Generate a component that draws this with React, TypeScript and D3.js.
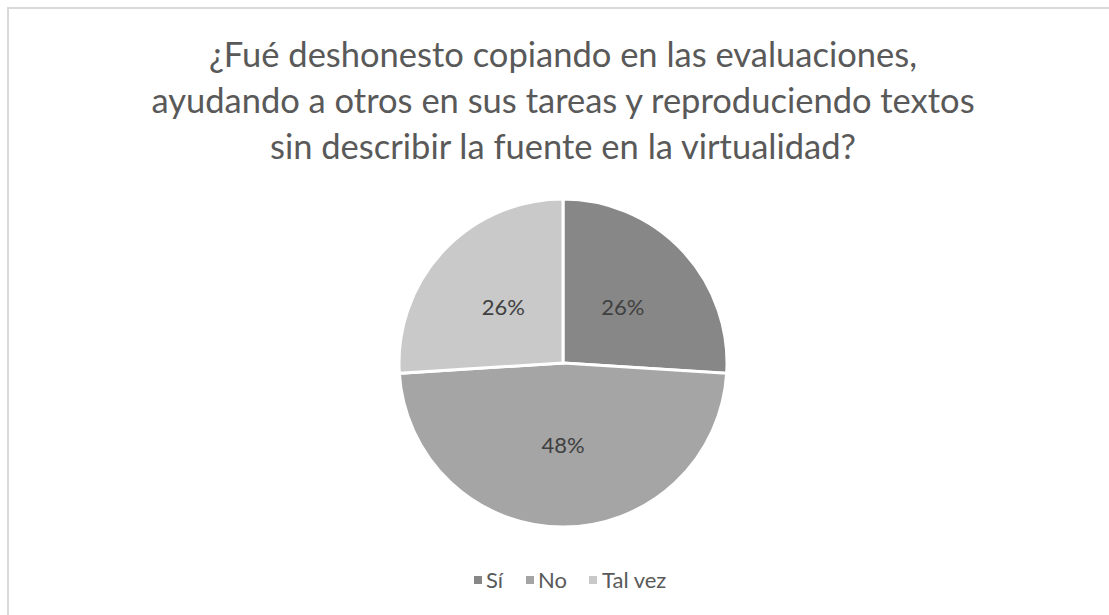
import React from "react";
import { pie, arc, PieArcDatum } from "d3";

const WIDTH = 1109;
const HEIGHT = 615;

const categories = ["Sí", "No", "Tal vez"];
const values = [26, 48, 26];
const colors = ["#878787", "#a5a5a5", "#c9c9c9"];
const titleLines = [
  "¿Fué deshonesto copiando en las evaluaciones,",
  "ayudando a otros en sus tareas y reproduciendo textos",
  "sin describir la fuente en la virtualidad?",
];

const FONT = "Lato, 'Noto Sans', sans-serif";
const CENTER = { x: 563, y: 363 };
const RADIUS = 164;

type Slice = { name: string; value: number; color: string };

export default function App() {
  const data: Slice[] = categories.map((name, i) => ({
    name,
    value: values[i],
    color: colors[i],
  }));
  const total = values.reduce((a, b) => a + b, 0);

  const arcs = pie<Slice>()
    .value((d) => d.value)
    .sort(null)(data);

  const slicePath = arc<PieArcDatum<Slice>>().innerRadius(0).outerRadius(RADIUS);
  const labelArc = arc<PieArcDatum<Slice>>()
    .innerRadius(RADIUS * 0.5)
    .outerRadius(RADIUS * 0.5);

  // legend: marker square x and text x per item
  const legendItems = [
    { x: 474, textX: 486 },
    { x: 526, textX: 538 },
    { x: 589, textX: 602 },
  ];

  return (
    <svg
      width={WIDTH}
      height={HEIGHT}
      style={{ position: "absolute", left: 0, top: 0, background: "#fff" }}
    >
      <rect x={8} y={8} width={WIDTH + 10} height={HEIGHT + 10} fill="#fff" stroke="#d9d9d9" strokeWidth={2} />

      <g fontFamily={FONT} fill="#595959" fontSize={34.5} textAnchor="middle">
        {titleLines.map((t, i) => (
          <text key={i} x={563} y={67 + i * 46}>
            {t}
          </text>
        ))}
      </g>

      <g transform={`translate(${CENTER.x},${CENTER.y})`}>
        {arcs.map((a) => (
          <path key={a.data.name} d={slicePath(a) ?? ""} fill={a.data.color} stroke="#fff" strokeWidth={3} />
        ))}
        {arcs.map((a) => {
          const [lx, ly] = labelArc.centroid(a);
          return (
            <text
              key={a.data.name}
              x={lx}
              y={ly}
              dy="0.35em"
              textAnchor="middle"
              fontFamily={FONT}
              fontSize={22}
              fill="#404040"
            >
              {Math.round((a.data.value / total) * 100)}%
            </text>
          );
        })}
      </g>

      <g fontFamily={FONT} fontSize={22} fill="#595959">
        {data.map((d, i) => (
          <g key={d.name}>
            <rect x={legendItems[i].x} y={576} width={8} height={8} fill={d.color} />
            <text x={legendItems[i].textX} y={588}>
              {d.name}
            </text>
          </g>
        ))}
      </g>
    </svg>
  );
}
